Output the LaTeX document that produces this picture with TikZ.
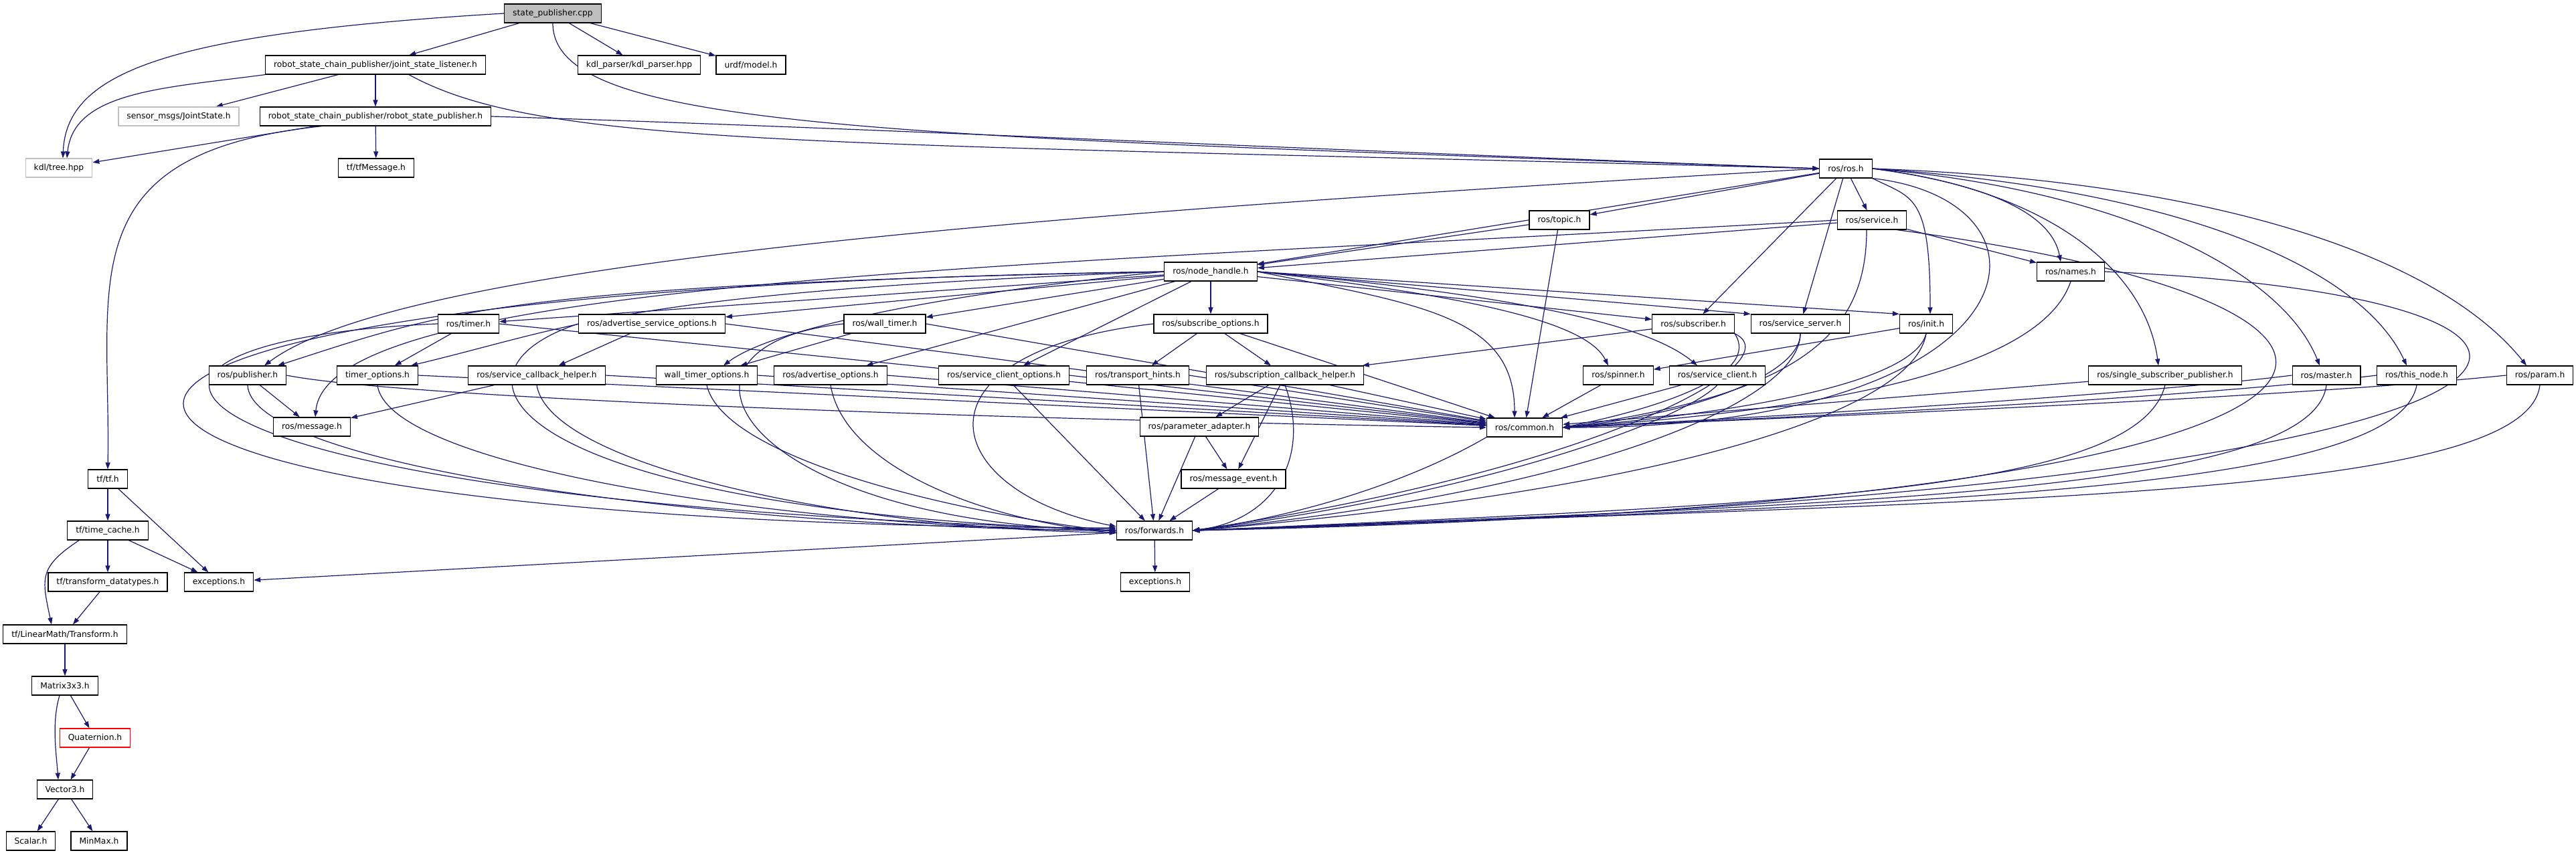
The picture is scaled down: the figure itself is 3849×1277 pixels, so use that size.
\documentclass[tikz,border=0pt]{standalone}
\usepackage{fontspec}
\newfontfamily\graphfont{DejaVu Sans}
\usepackage{tikz}
\usetikzlibrary{arrows.meta}
\definecolor{edgeblue}{HTML}{191970}
\definecolor{extgray}{HTML}{BFBFBF}
\pgfdeclarelayer{back}
\pgfdeclarelayer{edges}
\pgfsetlayers{back,edges,main}
\tikzset{
  filebox/.style={draw=black, fill=white, line width=1.2pt, inner xsep=12.5pt, inner ysep=0pt,
    minimum height=28pt, font=\graphfont\fontsize{12.3}{14}\selectfont},
  rootbox/.style={filebox, fill=extgray},
  extbox/.style={filebox, draw=extgray},
  missbox/.style={filebox, draw=red},
  dep/.style={draw=edgeblue, line width=1.2pt, -{Triangle[length=10pt,width=7pt]}}
}

\begin{document}
\begin{tikzpicture}[x=1pt, y=-1pt]
                \useasboundingbox (0,0) rectangle (3849,1277);
                \begin{pgfonlayer}{back}
                \fill[white] (0,0) rectangle (3849,1277);
                \end{pgfonlayer}

                % The file itself and its first includes
                \node[rootbox] (sp) at (826,20) {state\_publisher.cpp};
                \node[filebox] (jsl) at (561,97) {robot\_state\_chain\_publisher/joint\_state\_listener.h};
                \node[filebox] (kdlp) at (955,97) {kdl\_parser/kdl\_parser.hpp};
                \node[filebox] (urdf) at (1122,97) {urdf/model.h};
                \node[extbox] (jstate) at (267,174) {sensor\_msgs/JointState.h};
                \node[filebox] (rsp) at (561,174) {robot\_state\_chain\_publisher/robot\_state\_publisher.h};
                \node[extbox] (tree) at (88,251) {kdl/tree.hpp};
                \node[filebox] (tfmsg) at (562,251) {tf/tfMessage.h};

                % The ros headers
                \node[filebox] (ros) at (2758,252) {ros/ros.h};
                \node[filebox] (topic) at (2330,329) {ros/topic.h};
                \node[filebox] (service) at (2797,329) {ros/service.h};
                \node[filebox] (nh) at (1809,406) {ros/node\_handle.h};
                \node[filebox] (names) at (3094,406) {ros/names.h};
                \node[filebox] (timer) at (700,484) {ros/timer.h};
                \node[filebox] (aso) at (974,484) {ros/advertise\_service\_options.h};
                \node[filebox] (wtimer) at (1322,484) {ros/wall\_timer.h};
                \node[filebox] (subopt) at (1809,484) {ros/subscribe\_options.h};
                \node[filebox] (subscriber) at (2530,484) {ros/subscriber.h};
                \node[filebox] (srvserver) at (2690,484) {ros/service\_server.h};
                \node[filebox] (init) at (2878,484) {ros/init.h};
                \node[filebox] (pub) at (370,561) {ros/publisher.h};
                \node[filebox] (timeropt) at (564,561) {timer\_options.h};
                \node[filebox] (scbh) at (802,561) {ros/service\_callback\_helper.h};
                \node[filebox] (wtopt) at (1056,561) {wall\_timer\_options.h};
                \node[filebox] (advopt) at (1241,561) {ros/advertise\_options.h};
                \node[filebox] (scopt) at (1500,561) {ros/service\_client\_options.h};
                \node[filebox] (hints) at (1700,561) {ros/transport\_hints.h};
                \node[filebox] (sch) at (1920,561) {ros/subscription\_callback\_helper.h};
                \node[filebox] (spinner) at (2418,561) {ros/spinner.h};
                \node[filebox] (srvclient) at (2566,561) {ros/service\_client.h};
                \node[filebox] (ssp) at (3235,561) {ros/single\_subscriber\_publisher.h};
                \node[filebox] (master) at (3476,561) {ros/master.h};
                \node[filebox] (thisnode) at (3611,561) {ros/this\_node.h};
                \node[filebox] (param) at (3795,561) {ros/param.h};
                \node[filebox] (msg) at (466,638) {ros/message.h};
                \node[filebox] (padapt) at (1792,638) {ros/parameter\_adapter.h};
                \node[filebox] (common) at (2278,639) {ros/common.h};
                \node[filebox] (mevent) at (1843,716) {ros/message\_event.h};
                \node[filebox] (fwd) at (1725,793) {ros/forwards.h};
                \node[filebox] (rosexc) at (1726,870) {exceptions.h};

                % The tf headers
                \node[filebox] (tftf) at (161,716) {tf/tf.h};
                \node[filebox] (timecache) at (161,793) {tf/time\_cache.h};
                \node[filebox] (tfdt) at (161,870) {tf/transform\_datatypes.h};
                \node[filebox] (tfexc) at (327,870) {exceptions.h};
                \node[filebox] (transform) at (97,948) {tf/LinearMath/Transform.h};
                \node[filebox] (matrix) at (97,1025) {Matrix3x3.h};
                \node[missbox] (quat) at (142,1103) {Quaternion.h};
                \node[filebox] (vec) at (97,1180) {Vector3.h};
                \node[filebox] (scalar) at (46,1257) {Scalar.h};
                \node[filebox] (minmax) at (148,1257) {MinMax.h};

                \begin{pgfonlayer}{edges}
                % Straight includes
                \foreach \a/\b in {sp/jsl, sp/kdlp, sp/urdf, jsl/jstate, jsl/rsp, rsp/tree, rsp/tfmsg,
                    tftf/timecache, tftf/tfexc, timecache/tfdt, timecache/tfexc, tfdt/transform,
                    transform/matrix, matrix/quat, quat/vec, vec/scalar, vec/minmax, fwd/rosexc, fwd/tfexc,
                    ros/nh, topic/nh, service/nh, ros/topic, ros/service, ros/subscriber, ros/srvserver,
                    service/names, nh/timer, nh/aso, nh/wtimer, nh/subopt, nh/advopt, nh/scopt, nh/subscriber,
                    timer/timeropt, wtimer/wtopt, aso/scbh, pub/msg, scbh/msg, subopt/hints, subopt/sch,
                    subscriber/sch, init/spinner, sch/padapt, sch/mevent, padapt/mevent, padapt/fwd,
                    mevent/fwd, scopt/fwd, hints/fwd, topic/common, subopt/common, spinner/common,
                    srvclient/common, sch/common, ssp/common}
                    \draw[dep] (\a) -- (\b);

                % Curved includes at the top
                \draw[dep] (sp.west) .. controls +(-500,30) and +(5,-130) .. ([xshift=6pt]tree.north);
                \draw[dep] (sp.south) .. controls +(0,160) and +(-1400,-50) .. (ros.west);
                \draw[dep] (jsl.south west) .. controls +(-150,20) and +(10,-100) .. ([xshift=12pt]tree.north);
                \draw[dep] ([xshift=50pt]jsl.south) .. controls +(200,110) and +(-1500,-40) .. (ros.west);
                \draw[dep] ([xshift=-80pt]rsp.south) .. controls +(-380,40) and +(5,-280) .. (tftf.north);
                \draw[dep] (rsp.east) .. controls +(500,15) and +(-800,-30) .. (ros.west);

                % tf side
                \draw[dep] ([xshift=18pt]timecache.south west) .. controls +(-60,40) and +(-15,-70) .. ([xshift=-20pt]transform.north);
                \draw[dep] ([xshift=-8pt]matrix.south) .. controls +(-12,40) and +(-3,-40) .. ([xshift=-10pt]vec.north);

                % ros/ros.h
                \draw[dep] (ros.west) .. controls +(-1220,70) and +(200,-150) .. ([xshift=25pt]pub.north);
                \draw[dep] (ros.south east) .. controls +(60,30) and +(0,-180) .. ([xshift=6pt]init.north);
                \draw[dep] (ros.east) .. controls +(150,20) and +(-15,-80) .. ([xshift=-15pt]names.north);
                \draw[dep] (ros.east) .. controls +(250,30) and +(-20,-150) .. ([xshift=-10pt]ssp.north);
                \draw[dep] (ros.east) .. controls +(350,30) and +(-60,-150) .. ([xshift=-10pt]master.north);
                \draw[dep] (ros.east) .. controls +(450,30) and +(-70,-150) .. ([xshift=-15pt]thisnode.north);
                \draw[dep] (ros.east) .. controls +(550,20) and +(-120,-150) .. ([xshift=-20pt]param.north);
                \draw[dep] (ros.south east) .. controls +(302,34) and +(714,1) .. (common.east);

                % ros/service.h
                \draw[dep] ([xshift=-8pt]service.south) .. controls +(0,160) and +(350,-50) .. (common.east);
                \draw[dep] ([xshift=-15pt]service.south east) .. controls +(900,120) and +(1900,-40) .. (fwd.east);
                \draw[dep] (service.west) .. controls +(-1246,70) and +(19,-204) .. ([xshift=5pt]msg.north);

                % ros/node_handle.h
                \draw[dep] (nh.west) .. controls +(-2039,30) and +(-1769,-3) .. ([yshift=4pt]fwd.west);
                \draw[dep] (nh.west) .. controls +(-1000,20) and +(250,-80) .. ([xshift=45pt]pub.north);
                \draw[dep] (nh.west) .. controls +(-800,30) and +(250,-60) .. ([xshift=50pt]timeropt.north);
                \draw[dep] (nh.west) .. controls +(-300,30) and +(80,-60) .. ([xshift=25pt]wtopt.north);
                \draw[dep] (nh.east) .. controls +(350,40) and +(-30,-60) .. ([xshift=-15pt]spinner.north);
                \draw[dep] (nh.east) .. controls +(450,40) and +(-60,-50) .. ([xshift=-30pt]srvclient.north);
                \draw[dep] (nh.east) .. controls +(250,50) and +(0,-150) .. ([xshift=-15pt]common.north);
                \draw[dep] (nh.east) -- (srvserver.north west);
                \draw[dep] (nh.east) -- (init.north west);

                % into ros/common.h
                \foreach \a in {timer, aso, wtimer, timeropt, scbh, wtopt, advopt, scopt, hints}
                    \draw[dep] (\a.east) -- (common);
                \draw[dep] (pub.east) .. controls +(150,30) and +(-900,-15) .. (common.west);
                \draw[dep] (subscriber.south east) .. controls +(40,60) and +(150,-30) .. (common.east);
                \draw[dep] (srvserver.south) .. controls +(0,60) and +(200,-20) .. (common.east);
                \draw[dep] (init.south) .. controls +(-15,60) and +(350,-30) .. (common.east);
                \draw[dep] (names.south) .. controls +(-40,120) and +(450,-30) .. (common.east);
                \draw[dep] (master.west) .. controls +(-200,25) and +(400,-20) .. (common.east);
                \draw[dep] (thisnode.west) .. controls +(-250,30) and +(500,-22) .. (common.east);
                \draw[dep] (param.west) .. controls +(-300,30) and +(600,-25) .. (common.east);

                % into ros/forwards.h from the left
                \draw[dep] (timer.west) .. controls +(-604,26) and +(-1500,-40) .. ([yshift=2pt]fwd.west);
                \draw[dep] (pub.south) .. controls +(5,125) and +(-570,-3) .. (fwd.west);
                \draw[dep] (timeropt.south) .. controls +(16,125) and +(-470,-3) .. (fwd.west);
                \draw[dep] (aso.west) .. controls +(-223,73) and +(-919,-33) .. (fwd.west);
                \draw[dep] (scbh.south) .. controls +(20,125) and +(-370,-3) .. ([yshift=-3pt]fwd.west);
                \draw[dep] (wtimer.west) .. controls +(-302,33) and +(-569,-13) .. (fwd.west);
                \draw[dep] (wtopt.south) .. controls +(24,105) and +(-269,-33) .. ([yshift=-2pt]fwd.west);
                \draw[dep] (advopt.south) .. controls +(19,115) and +(-219,-23) .. ([yshift=-4pt]fwd.west);
                \draw[dep] (subopt.west) .. controls +(-372,43) and +(-269,-53) .. ([yshift=6pt]fwd.west);

                % into ros/forwards.h from the right
                \draw[dep] (common.south west) .. controls +(-120,70) and +(150,-20) .. (fwd.east);
                \draw[dep] (sch.south) .. controls +(40,110) and +(120,-15) .. (fwd.east);
                \draw[dep] (subscriber.south east) .. controls +(88,42) and +(618,-93) .. (fwd.east);
                \draw[dep] (srvserver.south) .. controls +(0,100) and +(600,-60) .. (fwd.east);
                \draw[dep] (srvclient.south) .. controls +(-60,60) and +(400,-50) .. (fwd.east);
                \draw[dep] (init.south) .. controls +(-20,120) and +(700,-60) .. (fwd.east);
                \draw[dep] (ssp.south) .. controls +(-40,160) and +(900,-40) .. (fwd.east);
                \draw[dep] (master.south) .. controls +(-20,160) and +(1000,-40) .. (fwd.east);
                \draw[dep] (thisnode.south) .. controls +(-30,160) and +(1100,-40) .. (fwd.east);
                \draw[dep] (param.south) .. controls +(-20,170) and +(1200,-45) .. (fwd.east);
                \draw[dep] (names.east) .. controls +(900,40) and +(2200,-60) .. (fwd.east);
                \end{pgfonlayer}
\end{tikzpicture}
\end{document}
